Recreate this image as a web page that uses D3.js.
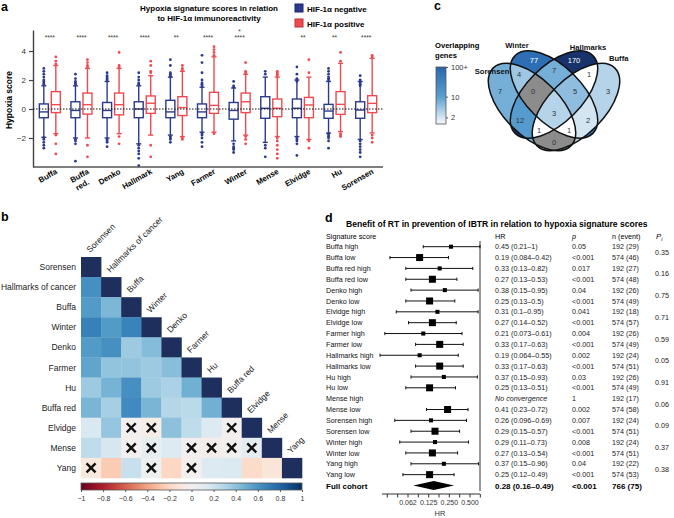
<!DOCTYPE html>
<html>
<head>
<meta charset="utf-8">
<script src="https://cdn.jsdelivr.net/npm/d3@7"></script>
<style>
  body { margin: 0; background: #fff; }
  svg { font-family: "Liberation Sans", Arial, sans-serif; }
</style>
</head>
<body>
<svg id="fig" width="674" height="518"></svg>
<script>
// ---- panel a data ----
const signatures = ["Buffa", "Buffa red.", "Denko", "Hallmark", "Yang", "Farmer", "Winter", "Mense", "Elvidge", "Hu", "Sorensen"];
const sigStars = [["****"], ["****"], ["****"], ["****"], ["**"], ["****"], ["*", "****"], [], ["**"], ["**"], ["****"]];
// [whisker low, q1, median, q3, whisker high]
const negStats = [
  [-1.95, -0.6, -0.2, 0.35, 1.6], [-2.0, -0.6, -0.1, 0.5, 1.6], [-2.0, -0.6, -0.1, 0.45, 1.9],
  [-2.4, -0.6, 0, 0.5, 1.6], [-1.8, -0.6, -0.2, 0.6, 2.2], [-1.6, -0.6, -0.2, 0.35, 1.5],
  [-2.2, -0.7, -0.1, 0.45, 1.45], [-2.3, -0.64, 0.05, 0.85, 2.2], [-1.9, -0.6, 0.05, 0.69, 2.0],
  [-1.66, -0.64, -0.14, 0.32, 1.9], [-2.1, -0.64, -0.07, 0.5, 1.9]
];
const posStats = [
  [-1.7, -0.25, 0.3, 1.2, 3.0], [-2.0, -0.35, 0.3, 1.1, 2.8], [-1.7, -0.4, 0.3, 1.1, 2.8],
  [-1.8, -0.3, 0.4, 0.9, 2.3], [-1.9, -0.45, 0.1, 0.85, 2.6], [-1.6, -0.3, 0.25, 1.15, 3.6],
  [-1.8, -0.25, 0.5, 1.1, 2.4], [-1.9, -0.53, 0.05, 0.69, 2.2], [-2.1, -0.6, 0.28, 0.8, 2.2],
  [-1.56, -0.37, 0.32, 1.2, 3.15], [-1.65, -0.25, 0.39, 0.92, 3.5]
];
const negOut = [
  [1.7, 1.8, 1.9, 2.0, 2.2, 2.4, 2.6, 2.8, -2.0, -2.1, -2.3, -2.5, -2.7],
  [1.7, 1.8, 1.9, 2.1, 2.4, -2.1, -2.2, -2.4, -3.6],
  [2.0, 2.1, 2.2, 2.3, 2.5, -2.1, -2.2, -2.3, -2.6],
  [1.7, 1.8, 2.0, 2.2, 2.5, -2.5, -2.7, -2.9, -3.1, -3.4, -3.9],
  [2.2, 2.3, 2.4, 2.5, 3.0, 3.4, -1.9, -2.0, -2.1, -2.3],
  [1.6, 1.7, 1.8, 2.0, 2.5, 3.2, 3.7, -1.7, -1.8, -2.0, -2.3, -2.6],
  [1.5, 1.6, 1.9, -2.4, -2.6, -2.7, -2.8, -3.0],
  [2.4, 2.6, -2.5, -2.7, -3.3],
  [1.9, 2.0, 2.1, 2.4, 2.9, -2.0, -2.1, -2.2, -2.4, -3.2],
  [2.0, 2.1, 2.2, 2.4, 2.6, 2.8, -1.7, -1.8, -1.9, -2.0, -2.2, -2.7],
  [1.6, 1.7, 1.8, 2.0, 2.3, -2.2, -2.4, -2.6, -2.8, -3.0, -3.3]
];
const posOut = [
  [3.1, 3.3, 3.6, -1.8, -2.4, -3.1],
  [2.9, 3.0, 3.2, 3.4, -2.5, -3.3],
  [2.9, 3.0, 3.9, -1.9, -2.4],
  [2.5, 2.6, 3.0, 3.3, -2.5, -3.3],
  [2.7, 2.8, 3.0, -2.0, -2.1],
  [3.7, 3.9, 4.1, 4.3, -1.7],
  [2.5, 2.6, 3.2, -1.9, -2.1, -2.4],
  [2.3, 2.4, 2.5, 2.6, -2.0, -2.2, -2.5, -2.8, -3.1, -3.4],
  [2.5, 3.4, -2.2, -2.7],
  [3.3, 3.9, -1.7, -1.8, -1.9],
  [3.6, 3.7, -1.8, -2.0, -2.3]
];
const yTicksA = [-2, 0, 2, 4];

// ---- panel b data ----
const hmLabels = ["Sorensen", "Hallmarks of cancer", "Buffa", "Winter", "Denko", "Farmer", "Hu", "Buffa red", "Elvidge", "Mense", "Yang"];
// lower triangle, row i has i values
const corrRows = [
  [],
  [0.62],
  [0.57, 0.45],
  [0.68, 0.57, 0.67],
  [0.57, 0.62, 0.36, 0.43],
  [0.53, 0.39, 0.39, 0.36, 0.42],
  [0.36, 0.47, 0.62, 0.36, 0.32, 0.48],
  [0.46, 0.33, 0.64, 0.46, 0.29, 0.27, 0.48],
  [0.15, 0.38, 0.0, -0.05, 0.41, 0.25, 0.13, 0.0],
  [0.25, 0.16, 0.0, 0.08, 0.13, 0.0, -0.04, 0.01, 0.1],
  [-0.1, -0.25, 0.22, 0.03, -0.2, 0.0, 0.13, 0.14, -0.18, -0.12]
];
const crossed = [[8, 2], [8, 3], [8, 7], [9, 2], [9, 3], [9, 5], [9, 6], [9, 7], [9, 8], [10, 0], [10, 3], [10, 5]];
const cbTicks = [-1, -0.8, -0.6, -0.4, -0.2, 0, 0.2, 0.4, 0.6, 0.8, 1];

// ---- panel c data ----
const vennSets = ["Sorensen", "Winter", "Hallmarks", "Buffa"];
const vennRegions = [
  ["S", 7], ["W", 77], ["H", 170], ["B", 3],
  ["SW", 4], ["WH", 7], ["HB", 1], ["SH", 12], ["WB", 2], ["SB", 0],
  ["SWH", 0], ["WHB", 5], ["SHB", 1], ["SWB", 1], ["SWHB", 3]
];
const vennTicks = [2, 10, 100];

// ---- panel d data ----
const fpLabels = ["Buffa high", "Buffa low", "Buffa red high", "Buffa red low", "Denko high", "Denko low",
  "Elvidge high", "Elvidge low", "Farmer high", "Farmer low", "Hallmarks high", "Hallmarks low",
  "Hu high", "Hu low", "Mense high", "Mense low", "Sorensen high", "Sorensen low",
  "Winter high", "Winter low", "Yang high", "Yang low"];
const fpHR = [0.45, 0.19, 0.33, 0.27, 0.38, 0.25, 0.31, 0.27, 0.21, 0.33, 0.19, 0.33, 0.37, 0.25, null, 0.41, 0.26, 0.29, 0.29, 0.27, 0.37, 0.25];
const fpLo = [0.21, 0.084, 0.13, 0.13, 0.15, 0.13, 0.1, 0.14, 0.073, 0.17, 0.064, 0.17, 0.15, 0.13, null, 0.23, 0.096, 0.15, 0.11, 0.13, 0.15, 0.12];
const fpHi = [1, 0.42, 0.82, 0.53, 0.95, 0.5, 0.95, 0.52, 0.61, 0.63, 0.55, 0.63, 0.93, 0.51, null, 0.72, 0.69, 0.57, 0.73, 0.54, 0.96, 0.49];
const fpP = ["0.05", "<0.001", "0.017", "<0.001", "0.04", "<0.001", "0.041", "<0.001", "0.004", "<0.001", "0.002", "<0.001",
  "0.03", "<0.001", "1", "0.002", "0.007", "<0.001", "0.008", "<0.001", "0.04", "<0.001"];
const fpN = [192, 574, 192, 574, 192, 574, 192, 574, 192, 574, 192, 574, 192, 574, 192, 574, 192, 574, 192, 574, 192, 574];
const fpEvents = [29, 46, 27, 48, 26, 49, 18, 57, 26, 49, 24, 51, 26, 49, 17, 58, 24, 51, 24, 51, 22, 53];
const fpPi = ["0.35", "0.16", "0.75", "0.71", "0.59", "0.05", "0.91", "0.06", "0.09", "0.37", "0.38"];
const fullCohort = { hr: 0.28, lo: 0.16, hi: 0.49, p: "<0.001", n: 766, events: 75 };
const hrTicks = [0.0625, 0.125, 0.25, 0.5];

const svg = d3.select("#fig");
const blue = "#2c3a8c", red = "#ee4a50";

// shrink a text to a target width
function fitText(t, w) {
  const len = t.node().getComputedTextLength();
  const fs = parseFloat(t.attr("font-size"));
  if (len > w) t.attr("font-size", (fs * w / len).toFixed(2));
}

// panel letters
[["a", 1, 11], ["b", 1, 221], ["c", 434, 10], ["d", 325, 222]].forEach(([l, x, y]) => {
  svg.append("text").attr("x", x).attr("y", y).attr("font-size", 12.5).attr("font-weight", "bold").text(l);
});

// ========== panel a ==========
const ga = svg.append("g");
const xa = d3.scaleBand().domain(d3.range(signatures.length)).range([34, 382]);
const ya = d3.scaleLinear().domain([-4, 5.45]).range([167, 30]);

const t1 = ga.append("text").attr("x", 209).attr("y", 11).attr("text-anchor", "middle")
  .attr("font-size", 8.5).attr("font-weight", "bold").text("Hypoxia signature scores in relation");
fitText(t1, 138);
ga.append("text").attr("x", 209).attr("y", 21).attr("text-anchor", "middle")
  .attr("font-size", t1.attr("font-size")).attr("font-weight", "bold").text("to HIF-1α immunoreactivity");

[[blue, "#1b2566", "HIF-1α negative", 4], [red, "#b83338", "HIF-1α positive", 19]].forEach(([c, s, txt, y]) => {
  ga.append("rect").attr("x", 295).attr("y", y).attr("width", 8).attr("height", 8)
    .attr("fill", c).attr("stroke", s).attr("stroke-width", 1);
  ga.append("text").attr("x", 307).attr("y", y + 7.5).attr("font-size", 8).attr("font-weight", "bold").text(txt);
});

const yAxisA = ga.append("g").attr("transform", "translate(33,0)")
  .call(d3.axisLeft(ya).tickValues(yTicksA).tickSize(4).tickSizeOuter(0));
yAxisA.select(".domain").attr("stroke", "#444").attr("stroke-width", 1.4);
yAxisA.selectAll(".tick line").attr("stroke", "#444").attr("stroke-width", 1.2);
yAxisA.selectAll(".tick text").attr("font-size", 8).attr("fill", "#333").attr("font-family", "Liberation Sans, Arial, sans-serif");
ga.append("line").attr("x1", 33).attr("x2", 383).attr("y1", 167).attr("y2", 167)
  .attr("stroke", "#555").attr("stroke-width", 1.4);
ga.append("text").attr("transform", "translate(12,100) rotate(-90)").attr("text-anchor", "middle")
  .attr("font-size", 8.5).attr("font-weight", "bold").text("Hypoxia score");

function drawBox(g, cx, s, outs, color) {
  const w = 9;
  g.append("line").attr("x1", cx).attr("x2", cx).attr("y1", ya(s[0])).attr("y2", ya(s[4]))
    .attr("stroke", color).attr("stroke-width", 1.4);
  [s[0], s[4]].forEach(v => g.append("line").attr("x1", cx - 2.5).attr("x2", cx + 2.5)
    .attr("y1", ya(v)).attr("y2", ya(v)).attr("stroke", color).attr("stroke-width", 1.4));
  g.append("rect").attr("x", cx - w / 2).attr("width", w).attr("y", ya(s[3]))
    .attr("height", ya(s[1]) - ya(s[3])).attr("fill", "#fff").attr("stroke", color).attr("stroke-width", 1.4);
  g.append("line").attr("x1", cx - w / 2).attr("x2", cx + w / 2).attr("y1", ya(s[2])).attr("y2", ya(s[2]))
    .attr("stroke", color).attr("stroke-width", 1.4);
  g.selectAll(null).data(outs).join("circle").attr("cx", cx).attr("cy", d => ya(d)).attr("r", 1.4).attr("fill", color);
}

signatures.forEach((name, i) => {
  const c = xa(i) + xa.bandwidth() / 2;
  drawBox(ga, c - 6, negStats[i], negOut[i], blue);
  drawBox(ga, c + 6, posStats[i], posOut[i], red);
  sigStars[i].forEach((s, k, arr) => {
    ga.append("text").attr("x", c).attr("y", 40 - (arr.length - 1 - k) * 6).attr("text-anchor", "middle")
      .attr("font-size", 6.5).attr("fill", "#333").text(s);
  });
  const lab = ga.append("text").attr("transform", `translate(${c + 8},173) rotate(-30)`)
    .attr("text-anchor", "end").attr("font-size", 7.8).attr("font-weight", "bold");
  const parts = name.split(" ");
  if (parts.length > 1) {
    lab.append("tspan").attr("x", 0).attr("dy", 0).text(parts[0]);
    lab.append("tspan").attr("x", -5).attr("dy", "1.2em").text(parts[1]);
  } else lab.text(name);
});
ga.append("line").attr("x1", 33).attr("x2", 383).attr("y1", ya(0)).attr("y2", ya(0))
  .attr("stroke", "#111").attr("stroke-width", 1).attr("stroke-dasharray", "1.5,1.5");

// ========== panel b ==========
const gb = svg.append("g");
const hx = d3.scaleBand().domain(d3.range(hmLabels.length)).range([81, 302]);
const hy = d3.scaleBand().domain(d3.range(hmLabels.length)).range([257, 478]);
const rdbu = d3.scaleSequential(d3.interpolateRdBu).domain([-1, 1]);

const cells = [];
hmLabels.forEach((_, i) => {
  for (let j = 0; j <= i; j++) cells.push({ i, j, v: i === j ? 1 : corrRows[i][j] });
});
gb.selectAll("rect.cell").data(cells).join("rect").attr("class", "cell")
  .attr("x", d => hx(d.j)).attr("y", d => hy(d.i))
  .attr("width", hx.bandwidth() + 0.3).attr("height", hy.bandwidth() + 0.3)
  .attr("fill", d => d.i === d.j ? "#1e2f5e" : rdbu(d.v));

crossed.forEach(([i, j]) => {
  const cx = hx(j) + hx.bandwidth() / 2, cy = hy(i) + hy.bandwidth() / 2, r = 4.5;
  gb.append("path").attr("d", `M${cx - r},${cy - r}L${cx + r},${cy + r}M${cx + r},${cy - r}L${cx - r},${cy + r}`)
    .attr("stroke", "#111").attr("stroke-width", 2.4);
});

gb.selectAll("text.rl").data(hmLabels).join("text").attr("class", "rl")
  .attr("x", 76).attr("y", (d, i) => hy(i) + hy.bandwidth() / 2 + 3)
  .attr("text-anchor", "end").attr("font-size", 8.5).attr("fill", "#222").text(d => d);
gb.selectAll("text.cl").data(hmLabels).join("text").attr("class", "cl")
  .attr("transform", (d, i) => `translate(${hx(i) + hx.bandwidth() / 2 - 1},${hy(i) - 4}) rotate(-45)`)
  .attr("font-size", 8.5).attr("fill", "#222").text(d => d);

const defs = svg.append("defs");
const grad = defs.append("linearGradient").attr("id", "rdbuGrad");
d3.range(0, 1.0001, 0.05).forEach(t => grad.append("stop").attr("offset", t).attr("stop-color", d3.interpolateRdBu(t)));
const cbx = d3.scaleLinear().domain([-1, 1]).range([81, 302]);
gb.append("rect").attr("x", 81).attr("y", 483).attr("width", 221).attr("height", 7)
  .attr("fill", "url(#rdbuGrad)").attr("stroke", "#555").attr("stroke-width", 0.8);
const cbAxis = gb.append("g").attr("transform", "translate(0,490)")
  .call(d3.axisBottom(cbx).tickValues(cbTicks).tickSize(2).tickSizeOuter(0).tickFormat(d3.format("")));
cbAxis.select(".domain").remove();
cbAxis.selectAll(".tick line").attr("stroke", "#555");
cbAxis.selectAll(".tick text").attr("font-size", 7).attr("fill", "#333").attr("dy", "0.9em")
  .attr("font-family", "Liberation Sans, Arial, sans-serif");

// ========== panel c ==========
const gc = svg.append("g");
const erx = 55, ery = 28;
const ellipses = {
  S: { c: [532, 107], rot: 45 },
  W: { c: [554, 94.5], rot: 45 },
  H: { c: [554, 94.5], rot: -45 },
  B: { c: [576, 107], rot: -45 }
};

const vcolor = d3.scaleLog().domain([1, 2, 10, 80, 170])
  .range(["#ffffff", "#d4e5f2", "#5a9fd0", "#2c6db3", "#18336c"]).clamp(true);
const regionColor = n => n === 0 ? "#8c8c8c" : vcolor(n);

Object.entries(ellipses).forEach(([k, e]) => {
  defs.append("clipPath").attr("id", "clip" + k).append("ellipse")
    .attr("cx", e.c[0]).attr("cy", e.c[1]).attr("rx", erx).attr("ry", ery)
    .attr("transform", `rotate(${e.rot},${e.c[0]},${e.c[1]})`);
});

// paint regions from single sets up, each clipped to the intersection of its sets
vennRegions.slice().sort((a, b) => a[0].length - b[0].length).forEach(([key, n]) => {
  let g = gc;
  key.split("").forEach(k => { g = g.append("g").attr("clip-path", `url(#clip${k})`); });
  g.append("rect").attr("x", 470).attr("y", 40).attr("width", 170).attr("height", 125).attr("fill", regionColor(n));
});

Object.values(ellipses).forEach(e => {
  gc.append("ellipse").attr("cx", e.c[0]).attr("cy", e.c[1]).attr("rx", erx).attr("ry", ery)
    .attr("transform", `rotate(${e.rot},${e.c[0]},${e.c[1]})`)
    .attr("fill", "none").attr("stroke", "#111").attr("stroke-width", 1.5);
});

// label position: sample point deepest inside each region
function ellQ(e, x, y) {
  const a = e.rot * Math.PI / 180, dx = x - e.c[0], dy = y - e.c[1];
  const xr = dx * Math.cos(a) + dy * Math.sin(a), yr = -dx * Math.sin(a) + dy * Math.cos(a);
  const q = (xr / erx) ** 2 + (yr / ery) ** 2;
  const gxx = 2 * xr / (erx * erx), gyy = 2 * yr / (ery * ery);
  return { q, d: Math.abs(q - 1) / Math.max(1e-6, Math.hypot(gxx, gyy)) };
}
vennRegions.forEach(([key, n]) => {
  let best = null, bestScore = -1;
  for (let x = 480; x <= 630; x += 1) {
    for (let y = 45; y <= 160; y += 1) {
      let ok = true, score = Infinity;
      for (const k of Object.keys(ellipses)) {
        const r = ellQ(ellipses[k], x, y);
        if ((r.q <= 1) !== key.includes(k)) { ok = false; break; }
        score = Math.min(score, r.d);
      }
      if (ok && score > bestScore) { bestScore = score; best = [x, y]; }
    }
  }
  if (best) gc.append("text").attr("x", best[0]).attr("y", best[1] + 2.7).attr("text-anchor", "middle")
    .attr("font-size", 7.5).attr("fill", n >= 50 ? "#fff" : "#333").text(n);
});

[["Winter", 517, 48, "middle"], ["Hallmarks", 588, 50, "middle"], ["Buffa", 609, 61, "start"], ["Sorensen", 492, 74, "middle"]]
  .forEach(([t, x, y, a]) => gc.append("text").attr("x", x).attr("y", y).attr("text-anchor", a)
    .attr("font-size", 7.6).attr("font-weight", "bold").attr("fill", "#111").text(t));

gc.append("text").attr("x", 435).attr("y", 48).attr("font-size", 7.6).attr("font-weight", "bold").text("Overlapping");
gc.append("text").attr("x", 435).attr("y", 58).attr("font-size", 7.6).attr("font-weight", "bold").text("genes");
const vy = d3.scaleLog().domain([1.2, 100]).range([124, 67]);
const vgrad = defs.append("linearGradient").attr("id", "vennGrad").attr("x1", 0).attr("x2", 0).attr("y1", 1).attr("y2", 0);
d3.range(0, 1.0001, 0.05).forEach(t => vgrad.append("stop").attr("offset", t)
  .attr("stop-color", vcolor(vy.invert(124 - t * 57))));
gc.append("rect").attr("x", 436).attr("y", 67).attr("width", 10).attr("height", 57)
  .attr("fill", "url(#vennGrad)").attr("stroke", "#555").attr("stroke-width", 0.8);
const vAxis = gc.append("g").attr("transform", "translate(446,0)")
  .call(d3.axisRight(vy).tickValues(vennTicks).tickSize(2).tickFormat(d => d === 100 ? "100+" : d));
vAxis.select(".domain").remove();
vAxis.selectAll(".tick line").attr("stroke", "#555");
vAxis.selectAll(".tick text").attr("font-size", 7.5).attr("fill", "#333").attr("font-family", "Liberation Sans, Arial, sans-serif");

// ========== panel d ==========
const gd = svg.append("g");
const xf = d3.scaleLog().base(2).domain([0.0625, 1]).range([379.2, 480]);
const yf = d3.scaleLinear().domain([0, 22]).range([246.7, 485.5]);
const sq = d3.scaleSqrt().domain([0, 574]).range([0, 7]);
const fs = 7.2;

const title = gd.append("text").attr("x", 346).attr("y", 227).attr("font-size", 9).attr("font-weight", "bold")
  .text("Benefit of RT in prevention of IBTR in relation to hypoxia signature scores");
fitText(title, 302);

const hdrY = 239;
gd.append("text").attr("x", 326).attr("y", hdrY).attr("font-size", fs).text("Signature score");
gd.append("text").attr("x", 495).attr("y", hdrY).attr("font-size", fs).text("HR");
gd.append("text").attr("x", 572).attr("y", hdrY).attr("font-size", fs).attr("font-style", "italic").text("p");
gd.append("text").attr("x", 612).attr("y", hdrY).attr("font-size", fs).text("n (event)");
const pih = gd.append("text").attr("x", 656).attr("y", hdrY).attr("font-size", fs + 0.5).attr("font-style", "italic").text("P");
pih.append("tspan").attr("font-size", 5).attr("dy", 1.5).text("i");

gd.append("line").attr("x1", xf(1)).attr("x2", xf(1)).attr("y1", 241).attr("y2", 491)
  .attr("stroke", "#555").attr("stroke-width", 1.2);

fpLabels.forEach((lab, i) => {
  const y = yf(i);
  gd.append("text").attr("x", 326).attr("y", y + 2.6).attr("font-size", fs).attr("fill", "#111").text(lab);
  if (fpHR[i] !== null) {
    const x1 = xf(fpLo[i]), x2 = xf(Math.min(fpHi[i], 1)), s = sq(fpN[i]);
    gd.append("line").attr("x1", x1).attr("x2", x2).attr("y1", y).attr("y2", y).attr("stroke", "#111").attr("stroke-width", 1);
    [x1, x2].forEach(x => gd.append("line").attr("x1", x).attr("x2", x).attr("y1", y - 1.6).attr("y2", y + 1.6)
      .attr("stroke", "#111").attr("stroke-width", 1));
    gd.append("rect").attr("x", xf(fpHR[i]) - s / 2).attr("y", y - s / 2).attr("width", s).attr("height", s).attr("fill", "#000");
    gd.append("text").attr("x", 495).attr("y", y + 2.6).attr("font-size", fs).attr("fill", "#222")
      .text(`${fpHR[i]} (${fpLo[i]}–${fpHi[i]})`);
  } else {
    gd.append("text").attr("x", 495).attr("y", y + 2.6).attr("font-size", fs).attr("font-style", "italic")
      .attr("fill", "#222").text("No convergence");
  }
  gd.append("text").attr("x", 572).attr("y", y + 2.6).attr("font-size", fs).attr("fill", "#222").text(fpP[i]);
  gd.append("text").attr("x", 612).attr("y", y + 2.6).attr("font-size", fs).attr("fill", "#222")
    .text(`${fpN[i]} (${fpEvents[i]})`);
});
fpPi.forEach((p, k) => {
  const y = (yf(2 * k) + yf(2 * k + 1)) / 2;
  gd.append("text").attr("x", 655).attr("y", y + 2.6).attr("font-size", fs).attr("fill", "#222").text(p);
});

const yc = yf(22);
gd.append("text").attr("x", 326).attr("y", yc + 3).attr("font-size", 8).attr("font-weight", "bold").text("Full cohort");
gd.append("path").attr("d", `M${xf(fullCohort.lo)},${yc}L${xf(fullCohort.hr)},${yc - 4.5}L${xf(fullCohort.hi)},${yc}L${xf(fullCohort.hr)},${yc + 4.5}Z`)
  .attr("fill", "#000");
gd.append("text").attr("x", 495).attr("y", yc + 3).attr("font-size", 8).attr("font-weight", "bold")
  .text(`${fullCohort.hr} (${fullCohort.lo}–${fullCohort.hi})`);
gd.append("text").attr("x", 572).attr("y", yc + 3).attr("font-size", 8).attr("font-weight", "bold").text(fullCohort.p);
gd.append("text").attr("x", 612).attr("y", yc + 3).attr("font-size", 8).attr("font-weight", "bold")
  .text(`${fullCohort.n} (${fullCohort.events})`);

// HR axis as printed in the figure
const xfAxis = d3.scaleLog().base(2).domain([0.0625, 0.5]).range([408, 470]);
gd.append("line").attr("x1", 382).attr("x2", 480).attr("y1", 494).attr("y2", 494).attr("stroke", "#333").attr("stroke-width", 1);
const minor = d3.range(-5.5, -0.4, 0.5).map(e => Math.pow(2, e)).filter(v => xfAxis(v) >= 381 && xfAxis(v) <= 481);
gd.selectAll("line.mt").data(minor).join("line").attr("class", "mt")
  .attr("x1", d => xfAxis(d)).attr("x2", d => xfAxis(d)).attr("y1", 494).attr("y2", 497.5).attr("stroke", "#333");
gd.selectAll("text.ht").data(hrTicks).join("text").attr("class", "ht")
  .attr("x", d => xfAxis(d)).attr("y", 505).attr("text-anchor", "middle").attr("font-size", 7).attr("fill", "#333")
  .text(d => d === 0.0625 ? "0.062" : d3.format(".3f")(d));
gd.append("text").attr("x", 440).attr("y", 516).attr("text-anchor", "middle").attr("font-size", 7.5).attr("fill", "#333").text("HR");
</script>
</body>
</html>
